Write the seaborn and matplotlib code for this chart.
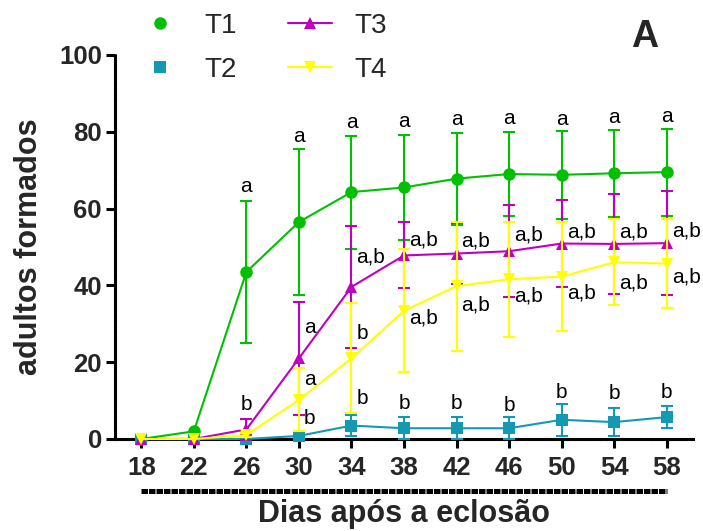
import matplotlib
matplotlib.use("Agg")
import numpy as np
import pandas as pd
import seaborn as sns
import matplotlib.pyplot as plt
from matplotlib.lines import Line2D

# ---------------- data ----------------
days = [18, 22, 26, 30, 34, 38, 42, 46, 50, 54, 58]
series_names = ["T1", "T2", "T3", "T4"]

t1_mean = [0, 2.0, 43.5, 56.5, 64.3, 65.5, 67.8, 69.0, 68.8, 69.2, 69.5]
t1_err = [0, 0, 18.5, 19.0, 14.7, 13.7, 12.0, 11.0, 11.4, 11.3, 11.3]
t2_mean = [0, 0, 0, 0.8, 3.5, 2.8, 2.8, 2.8, 5.0, 4.4, 5.7]
t2_err = [0, 0, 0, 1.0, 2.8, 2.8, 2.8, 2.8, 4.2, 3.6, 2.8]
t3_mean = [0, 0, 2.5, 21.0, 39.6, 47.8, 48.3, 48.9, 50.9, 50.8, 51.0]
t3_err = [0, 0, 2.7, 14.7, 15.8, 8.6, 8.0, 12.0, 11.3, 13.0, 13.6]
t4_mean = [0, 0, 1.0, 10.2, 21.0, 33.4, 39.8, 41.6, 42.3, 46.0, 45.7]
t4_err = [0, 0, 0.5, 8.2, 14.3, 16.0, 16.8, 15.0, 14.2, 11.2, 11.6]

t1_letters = ["", "", "a", "a", "a", "a", "a", "a", "a", "a", "a"]
t2_letters = ["", "", "", "b", "b", "b", "b", "b", "b", "b", "b"]
t3_letters = ["", "", "b", "a", "a,b", "a,b", "a,b", "a,b", "a,b", "a,b", "a,b"]
t4_letters = ["", "", "", "a", "b", "a,b", "a,b", "a,b", "a,b", "a,b", "a,b"]

y_ticks = [0, 20, 40, 60, 80, 100]
x_label = "Dias após a eclosão"
y_label = "adultos formados"
panel_label = "A"

# ---------------- layout / style (not data) ----------------
colors = {"T1": "#00C000", "T2": "#1499B3", "T3": "#C000C0", "T4": "#FFFF00"}
markers = {"T1": "o", "T2": "s", "T3": "^", "T4": "v"}
msizes = {"T1": 9, "T2": 8, "T3": 8.5, "T4": 8.5}
# label placement: 'above' = centred over upper cap ; 'right' = right of point
t1_mode = ["above"] * 11
t2_mode = ["", "", "", "right", "right", "above", "above", "above", "above", "above", "above"]
t3_mode = ["", "", "above", "right", "right", "right", "right", "right", "right", "right", "right"]
t4_mode = ["", "", "", "right", "right", "right", "right", "right", "right", "right", "right"]
# vertical offset (pixels, screen-down) of the letter centre
t1_dy = [0, 0, -14, -13, -13, -13, -13, -13, -12, -12, -12]
t2_dy = [0, 0, 0, -17, -27, -14, -14, -12, -11, -15, -14]
t3_dy = [0, 0, -15, -31, -30, -15, -13, -16, -12, -12, -12]
t4_dy = [0, 0, 0, -20, -25, 7, 19, 17, 16, 21, 13]

sns.set_theme(style="ticks")
plt.rcParams["font.family"] = ["Liberation Sans", "DejaVu Sans"]

W, H = 703, 531
fig = plt.figure(figsize=(W / 100, H / 100), dpi=100)
ax = fig.add_axes([115 / W, (H - 439) / H, 578 / W, 384 / H])

means = {"T1": t1_mean, "T2": t2_mean, "T3": t3_mean, "T4": t4_mean}
errs = {"T1": t1_err, "T2": t2_err, "T3": t3_err, "T4": t4_err}
letters = {"T1": t1_letters, "T2": t2_letters, "T3": t3_letters, "T4": t4_letters}
modes = {"T1": t1_mode, "T2": t2_mode, "T3": t3_mode, "T4": t4_mode}
dys = {"T1": t1_dy, "T2": t2_dy, "T3": t3_dy, "T4": t4_dy}

df = pd.concat(
    [pd.DataFrame({"day": days, "mean": means[n], "err": errs[n], "series": n}) for n in series_names],
    ignore_index=True,
)

for i, name in enumerate(series_names):
    sub = df[df["series"] == name]
    c = colors[name]
    z = 3 + i
    nz = sub[sub["err"] > 0]
    ax.errorbar(nz["day"], nz["mean"], yerr=nz["err"], fmt="none", ecolor=c,
                elinewidth=1.5, capsize=4.5, capthick=1.5, clip_on=False, zorder=z)
    sns.lineplot(data=sub, x="day", y="mean", color=c, marker=markers[name],
                 markersize=msizes[name], markeredgewidth=0, linewidth=1.5,
                 ax=ax, legend=False, clip_on=False, zorder=z + 0.5)

# significance letters
for name in series_names:
    for d, m, e, lab, mode, dy in zip(days, means[name], errs[name], letters[name], modes[name], dys[name]):
        if not lab:
            continue
        if mode == "above":
            ax.annotate(lab, xy=(d, m + e), xytext=(0, -(dy + 5.5)), textcoords="offset pixels",
                        ha="center", va="baseline", fontsize=15, color="black", zorder=10,
                        annotation_clip=False)
        else:
            ax.annotate(lab, xy=(d, m), xytext=(5, -(dy + 5.5)), textcoords="offset pixels",
                        ha="left", va="baseline", fontsize=15, color="black", zorder=10,
                        annotation_clip=False)

ax.set_xlim(16, 60)
ax.set_ylim(0, 100)
ax.set_xticks(days)
ax.set_yticks(y_ticks)
ax.tick_params(axis="both", direction="out", length=6.5, width=2.2, labelsize=18.5, color="black")
ax.tick_params(axis="x", pad=6)
ax.tick_params(axis="y", pad=3)
for t in ax.get_xticklabels() + ax.get_yticklabels():
    t.set_fontweight("bold")

for s in ["top", "right"]:
    ax.spines[s].set_visible(False)
for s in ["left", "bottom"]:
    ax.spines[s].set_linewidth(2.2)
    ax.spines[s].set_color("black")
    ax.spines[s].set_linestyle((0, (1.6, 0.25)))

ax.set_xlabel(x_label, fontsize=22, fontweight="bold")
ax.set_ylabel(y_label, fontsize=22, fontweight="bold", va="center")
ax.xaxis.set_label_coords(0.5, (439 - 499) / 384)
ax.yaxis.set_label_coords((29 - 115) / 578, 0.5)

# secondary dashed bar under the tick labels
ax.plot([days[0], days[-1]], [(439 - 491) / 384] * 2, transform=ax.get_xaxis_transform(),
        color="black", lw=3.6, ls=(0, (1.3, 0.2)), clip_on=False)

# panel letter
fig.text(645 / W, 1 - 37 / H, panel_label, fontsize=27, fontweight="bold", ha="center", va="center")

# legend
handles = [
    Line2D([], [], color=colors["T1"], marker="o", markersize=msizes["T1"], linestyle="none", markeredgewidth=0),
    Line2D([], [], color=colors["T2"], marker="s", markersize=msizes["T2"], linestyle="none", markeredgewidth=0),
    Line2D([], [], color=colors["T3"], marker="^", markersize=msizes["T3"], linewidth=1.5, markeredgewidth=0),
    Line2D([], [], color=colors["T4"], marker="v", markersize=msizes["T4"], linewidth=1.5, markeredgewidth=0),
]
leg = fig.legend(handles, series_names, loc="upper left", bbox_to_anchor=(138 / W, 1 - 13 / H),
                 ncol=2, frameon=False, fontsize=20, handlelength=1.58, handletextpad=0.8,
                 columnspacing=1.85, labelspacing=0.65, borderpad=0, borderaxespad=0)

fig.savefig("out.png", dpi=100)
